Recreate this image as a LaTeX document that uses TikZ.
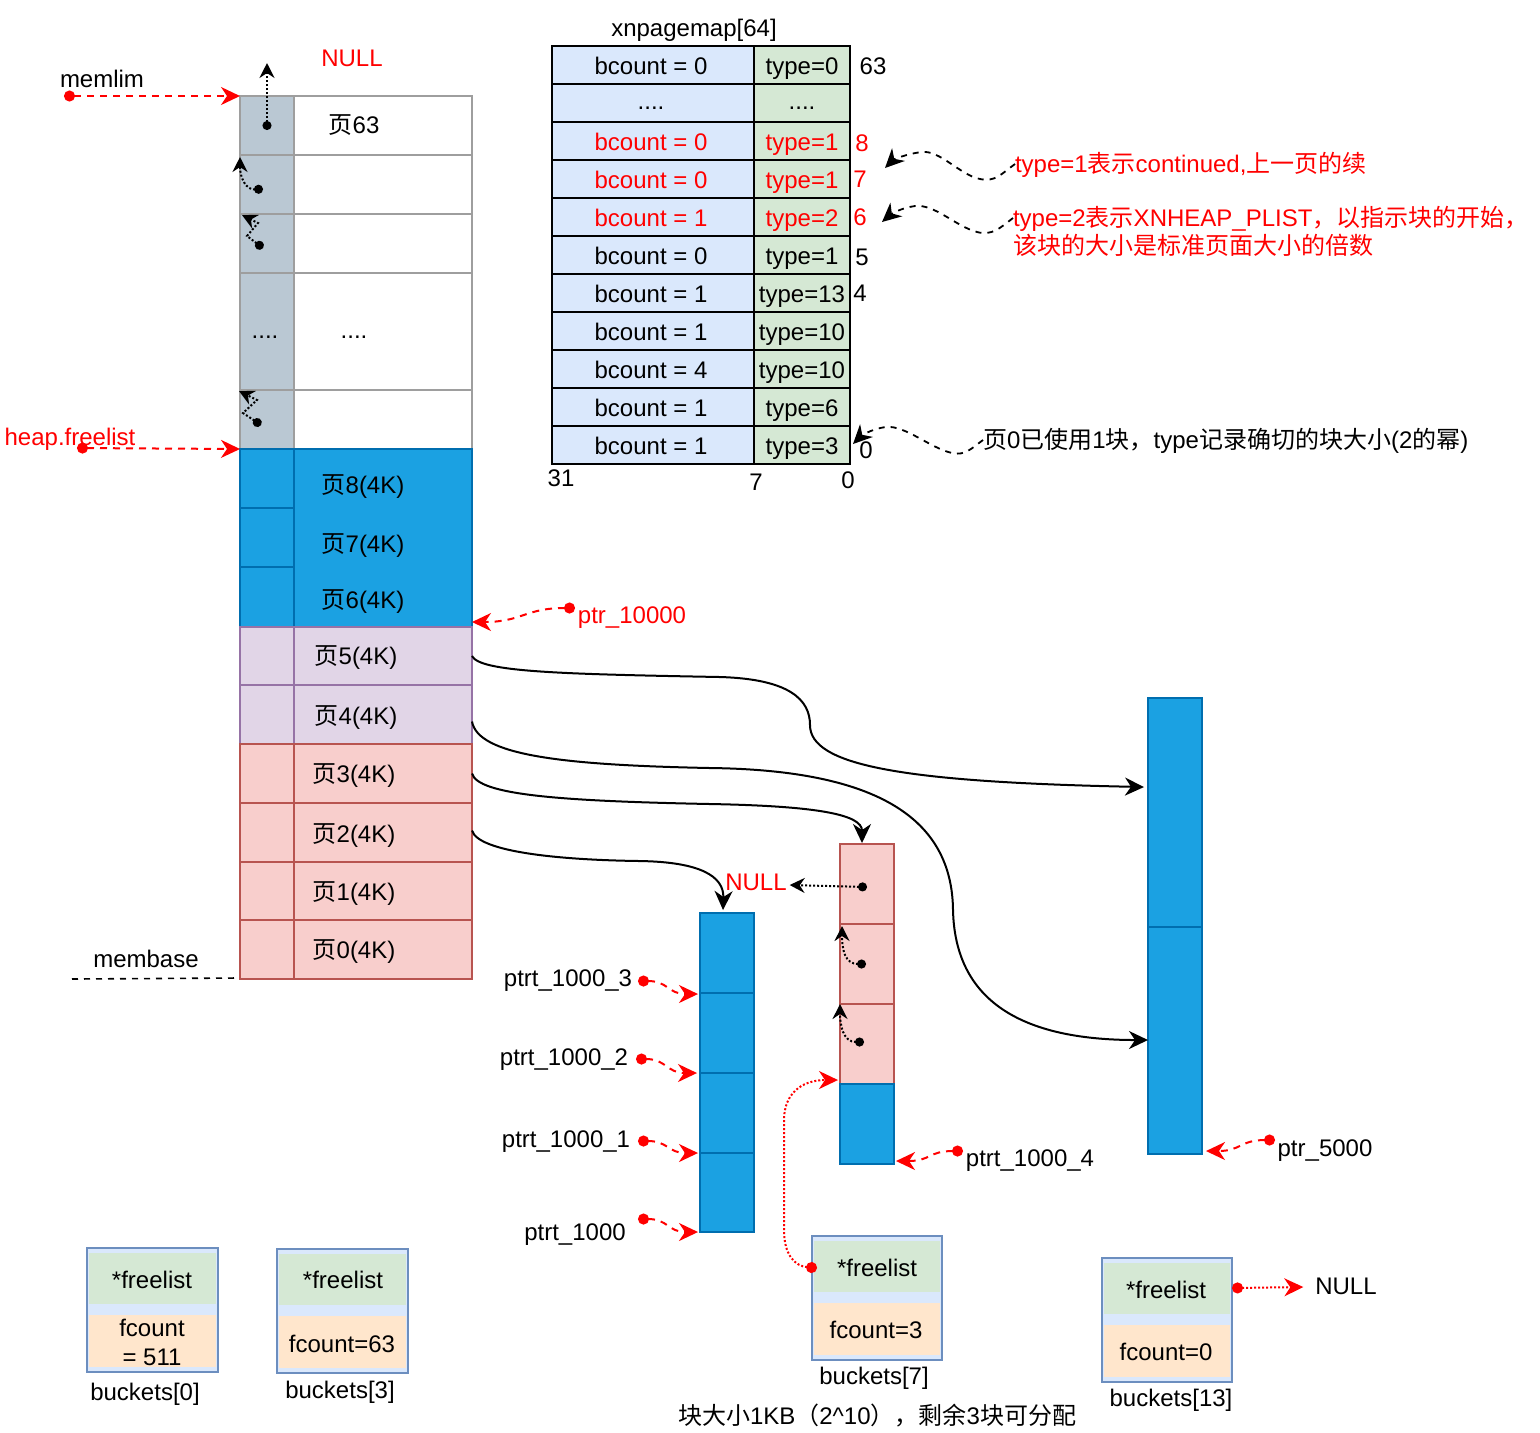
\documentclass[tikz,border=0pt]{standalone}
\usepackage{fontspec}
\setmainfont{Liberation Sans}
\newfontfamily\zh{Noto Sans CJK SC}
\newcommand\zhs[1]{{\zh #1}}
\newcommand\fourdots{\raisebox{1.5pt}{....}}
\usetikzlibrary{arrows.meta,fit,calc}
\definecolor{cred}{HTML}{FF0000}
\definecolor{cgray}{HTML}{BAC8D3}
\definecolor{cgrayst}{HTML}{9E9E9E}
\definecolor{cblue}{HTML}{1BA1E2}
\definecolor{cbluest}{HTML}{006EAF}
\definecolor{cpur}{HTML}{E1D5E7}
\definecolor{cpurst}{HTML}{9673A6}
\definecolor{credf}{HTML}{F8CECC}
\definecolor{credst}{HTML}{B85450}
\definecolor{ctl}{HTML}{DAE8FC}
\definecolor{ctr}{HTML}{D5E8D4}
\definecolor{cbkst}{HTML}{6C8EBF}
\definecolor{cor}{HTML}{FFE6CC}
\tikzset{
  txt/.style={inner sep=0pt, outer sep=0pt, text height=8.6pt, text depth=0pt,
    font=\fontsize{12}{14}\selectfont},
  rtxt/.style={txt, text=cred},
  box/.style={inner sep=0pt, outer sep=0pt, line width=1pt},
  graycell/.style={box, draw=cgrayst, fill=cgray},
  whitecell/.style={box, draw=cgrayst, fill=white},
  bluecell/.style={box, draw=cbluest, fill=cblue},
  purcell/.style={box, draw=cpurst, fill=cpur},
  redcell/.style={box, draw=credst, fill=credf},
  tabl/.style={box, draw=black, fill=ctl, line width=1.2pt},
  tabr/.style={box, draw=black, fill=ctr, line width=1.2pt},
  bkout/.style={box, draw=cbkst, fill=ctl},
  bkgreen/.style={box, fill=ctr},
  bkor/.style={box, fill=cor},
  bighead/.style={Stealth[length=9.5pt,width=9pt,inset=3pt]},
  redptr/.style={draw=cred, line width=1pt, dash pattern=on 3.5pt off 3pt,
    {Circle[length=5.5pt]}-{Stealth[length=9.5pt,width=9pt,inset=3pt]}},
  reddot/.style={draw=cred, line width=1pt, dash pattern=on 1pt off 1pt,
    {Circle[length=5.5pt]}-{Stealth[length=9.5pt,width=9pt,inset=3pt]}},
  blkdot/.style={draw=black, line width=1pt, dash pattern=on 1pt off 1pt,
    {Circle[length=4.5pt]}-{Stealth[length=7.5pt,width=7.5pt,inset=2.5pt]}},
  conn/.style={draw=black, line width=1pt, -{Stealth[length=9.5pt,width=9pt,inset=3pt]}},
  annarrow/.style={draw=black, line width=0.9pt, dash pattern=on 3pt off 3pt,
    -{Stealth[length=9.5pt,width=9pt,inset=3pt]}},
}
\begin{document}
\begin{tikzpicture}[x=0.5pt,y=-0.5pt]
\fill[white] (0,0) rectangle (1540,1432);
\useasboundingbox (0,0) rectangle (1540,1432);

% ---------- left page column ----------
\node[whitecell, fit={(294,96)(472,155)}] (w1) {};
\node[whitecell, fit={(294,155)(472,214)}] (w2) {};
\node[whitecell, fit={(294,214)(472,273)}] (w3) {};
\node[whitecell, fit={(294,273)(472,390)}] (w4) {};
\node[whitecell, fit={(294,390)(472,449)}] (w5) {};
\node[graycell, fit={(240,96)(294,155)}] (g1) {};
\node[graycell, fit={(240,155)(294,214)}] (g2) {};
\node[graycell, fit={(240,214)(294,273)}] (g3) {};
\node[graycell, fit={(240,273)(294,390)}] (g4) {};
\node[graycell, fit={(240,390)(294,449)}] (g5) {};

\node[bluecell, fit={(294,449)(472,627)}] (bR) {};
\node[bluecell, fit={(240,449)(294,508)}] (b8l) {};
\node[bluecell, fit={(240,508)(294,567)}] (b7l) {};
\node[bluecell, fit={(240,567)(294,627)}] (b6l) {};

\node[purcell, fit={(240,627)(294,685)}] (p5l) {};
\node[purcell, fit={(294,627)(472,685)}] (p5r) {};
\node[purcell, fit={(240,685)(294,744)}] (p4l) {};
\node[purcell, fit={(294,685)(472,744)}] (p4r) {};

\node[redcell, fit={(240,744)(294,803)}] (r3l) {};
\node[redcell, fit={(294,744)(472,803)}] (r3r) {};
\node[redcell, fit={(240,803)(294,862)}] (r2l) {};
\node[redcell, fit={(294,803)(472,862)}] (r2r) {};
\node[redcell, fit={(240,862)(294,920)}] (r1l) {};
\node[redcell, fit={(294,862)(472,920)}] (r1r) {};
\node[redcell, fit={(240,920)(294,979)}] (r0l) {};
\node[redcell, fit={(294,920)(472,979)}] (r0r) {};

\node[txt] (t63) at (354,125) {\zhs{页}63};
\node[txt] (tdl) at (265,330) {....};
\node[txt] (tdr) at (354,330) {....};
\node[txt] (tp8) at (363,485) {\zhs{页}8(4K)};
\node[txt] (tp7) at (363,544) {\zhs{页}7(4K)};
\node[txt] (tp6) at (363,600) {\zhs{页}6(4K)};
\node[txt] (tp5) at (356,656) {\zhs{页}5(4K)};
\node[txt] (tp4) at (356,716) {\zhs{页}4(4K)};
\node[txt] (tp3) at (354,774) {\zhs{页}3(4K)};
\node[txt] (tp2) at (354,834) {\zhs{页}2(4K)};
\node[txt] (tp1) at (354,892) {\zhs{页}1(4K)};
\node[txt] (tp0) at (354,950) {\zhs{页}0(4K)};

\node[rtxt] (tnullT) at (352,58) {NULL};
\node[txt] (tmemlim) at (102,79) {memlim};
\node[rtxt] (theap) at (70,437) {heap.freelist};
\node[txt] (tmembase) at (146,959) {membase};

\coordinate (dmem) at (64,96);
\draw[redptr] (dmem) -- (g1.north west);
\coordinate (dheap) at (77,448);
\draw[redptr] (dheap) -- (g5.south west);
\coordinate (mb) at (72,979);
\draw[black, line width=0.8pt, dash pattern=on 3pt off 3pt] (mb) -- ($(r0l.south west)+(-3,-1)$);

% free-list links inside the gray column
\coordinate (d1) at (267,130);
\coordinate (up1) at (267,63);
\draw[blkdot] (d1) -- (up1);
\coordinate (d2) at (263,189);
\draw[blkdot] (d2) .. controls (246,190) and (240,178) .. ($(g2.north west)+(0,2)$);
\coordinate (d3) at (263,248);
\draw[blkdot] (d3) -- (247,236) -- (258,223) -- ($(g3.north west)+(2,1)$);
\coordinate (d5) at (261,425);
\draw[blkdot] (d5) -- (243,413) -- (257,400) -- ($(g5.north west)+(-1,1)$);

% ---------- xnpagemap table ----------
\node[txt] (ttitle) at (694,28) {xnpagemap[64]};
\foreach \i/\lt/\rt/\col in {
  0/bcount = 0/type=0/black,
  1/\fourdots/\fourdots/black,
  2/bcount = 0/type=1/cred,
  3/bcount = 0/type=1/cred,
  4/bcount = 1/type=2/cred,
  5/bcount = 0/type=1/black,
  6/bcount = 1/type=13/black,
  7/bcount = 1/type=10/black,
  8/bcount = 4/type=10/black,
  9/bcount = 1/type=6/black,
  10/bcount = 1/type=3/black}{
  \node[tabl, fit={(552,{46+38*\i})(754,{84+38*\i})}] (tl\i) {};
  \node[tabr, fit={(754,{46+38*\i})(850,{84+38*\i})}] (tr\i) {};
  \node[txt, text=\col] (tlt\i) at (651,{66+38*\i}) {\lt};
  \node[txt, text=\col] (trt\i) at (802,{66+38*\i}) {\rt};
}
\node[txt] (n63) at (873,66) {63};
\node[rtxt] (n8) at (862,143) {8};
\node[rtxt] (n7) at (860,179) {7};
\node[rtxt] (n6) at (860,217) {6};
\node[txt] (n5) at (862,257) {5};
\node[txt] (n4) at (860,293) {4};
\node[txt] (n0r) at (866,450) {0};
\node[txt] (b31) at (561,478) {31};
\node[txt] (b7) at (756,482) {7};
\node[txt] (b0) at (848,480) {0};

% ---------- annotations ----------
\node[rtxt, anchor=west] (tA1) at (1015,164) {type=1\zhs{表示}continued,\zhs{上一页的续}};
\node[rtxt, anchor=west] (tA2) at (1013,218) {type=2\zhs{表示}XNHEAP\_PLIST\zhs{，以指示块的开始，}};
\node[rtxt, anchor=west] (tA2b) at (1013,246) {\zhs{该块的大小是标准页面大小的倍数}};
\node[txt, anchor=west] (tA3) at (983,440) {\zhs{页}0\zhs{已使用}1\zhs{块，}type\zhs{记录确切的块大小}(2\zhs{的幂})};
\coordinate (aA1) at (885,168);
\coordinate (aA2) at (882,222);
\coordinate (aA3) at (853,444);
\draw[annarrow] (tA1.west) .. controls (1000,175) and (995,182) .. (980,179)
  .. controls (960,175) and (940,150) .. (922,152) .. controls (905,154) and (893,160) .. (aA1);
\draw[annarrow] (tA2.west) .. controls (1000,228) and (992,236) .. (977,232)
  .. controls (955,226) and (935,204) .. (915,206) .. controls (900,208) and (890,215) .. (aA2);
\draw[annarrow] (tA3.west) .. controls (972,448) and (965,456) .. (952,453)
  .. controls (930,448) and (905,425) .. (886,427) .. controls (870,429) and (860,437) .. (aA3);

% ---------- ptr_10000 ----------
\node[rtxt] (tp10000) at (632,615) {ptr\_10000};
\coordinate (dp10000) at (575,608);
\draw[redptr] (dp10000) .. controls +(-50,0) and +(50,0) .. ($(bR.south east)+(0,-5)$);

% ---------- block columns ----------
\node[bluecell, fit={(700,913)(754,993)}] (mc1) {};
\node[bluecell, fit={(700,993)(754,1073)}] (mc2) {};
\node[bluecell, fit={(700,1073)(754,1153)}] (mc3) {};
\node[bluecell, fit={(700,1153)(754,1232)}] (mc4) {};

\node[redcell, fit={(840,844)(894,924)}] (rc1) {};
\node[redcell, fit={(840,924)(894,1004)}] (rc2) {};
\node[redcell, fit={(840,1004)(894,1084)}] (rc3) {};
\node[bluecell, fit={(840,1084)(894,1164)}] (rc4) {};

\node[bluecell, fit={(1148,698)(1202,927)}] (big1) {};
\node[bluecell, fit={(1148,927)(1202,1154)}] (big2) {};

% page to block connectors
\draw[conn] ($(p5r.east)+(0,0)$) .. controls (480,672) and (560,674) .. (720,677)
  .. controls (790,679) and (810,700) .. (810,725)
  .. controls (810,765) and (900,782) .. ($(big1.north west)+(-4,89)$);
\draw[conn] ($(p4r.east)+(0,7)$) .. controls (478,755) and (560,765) .. (710,768)
  .. controls (880,770) and (952,820) .. (953,910)
  .. controls (955,1000) and (1020,1040) .. ($(big2.north west)+(0,113)$);
\draw[conn] (r3r.east) .. controls (478,795) and (560,801) .. (710,804)
  .. controls (820,806) and (862,815) .. ($(rc1.north)+(-5,-1)$);
\draw[conn] ($(r2r.east)+(0,-2)$) .. controls (478,852) and (560,860) .. (640,861)
  .. controls (700,862) and (724,876) .. ($(mc1.north)+(-4,-3)$);

% NULL and links in the 1K column
\node[rtxt] (tnullM) at (756,882) {NULL};
\coordinate (dn1) at (867,887);
\draw[blkdot] (dn1) -- ($(tnullM.east)+(3,3)$);
\coordinate (dn2) at (866,964);
\draw[blkdot] (dn2) .. controls (845,964) and (842,950) .. ($(rc2.north west)+(2,2)$);
\coordinate (dn3) at (864,1042);
\draw[blkdot] (dn3) .. controls (843,1042) and (840,1025) .. ($(rc3.north west)+(0,0)$);

% ptrt labels
\node[txt] (tq3) at (568,978) {ptrt\_1000\_3};
\node[txt] (tq2) at (564,1057) {ptrt\_1000\_2};
\node[txt] (tq1) at (566,1139) {ptrt\_1000\_1};
\node[txt] (tq0) at (575,1232) {ptrt\_1000};
\coordinate (dq3) at (638,981);
\coordinate (dq2) at (636,1059);
\coordinate (dq1) at (638,1141);
\coordinate (dq0) at (638,1219);
\draw[redptr] (dq3) .. controls +(30,0) and +(-30,0) .. ($(mc1.south west)+(-2,1)$);
\draw[redptr] (dq2) .. controls +(30,0) and +(-30,0) .. ($(mc2.south west)+(-3,0)$);
\draw[redptr] (dq1) .. controls +(30,0) and +(-30,0) .. ($(mc3.south west)+(-2,0)$);
\draw[redptr] (dq0) .. controls +(30,0) and +(-30,0) .. ($(mc4.south west)+(-2,0)$);

\node[txt] (tq4) at (1030,1158) {ptrt\_1000\_4};
\coordinate (dq4) at (963,1151);
\draw[redptr] (dq4) .. controls +(-35,0) and +(35,0) .. ($(rc4.south east)+(2,-3)$);
\node[txt] (t5000) at (1325,1148) {ptr\_5000};
\coordinate (d5000) at (1275,1140);
\draw[redptr] (d5000) .. controls +(-35,0) and +(35,0) .. ($(big2.south east)+(4,-3)$);

% ---------- buckets ----------
\node[bkout, fit={(87,1248)(218,1372)}] (bk0) {};
\node[bkgreen, fit={(89,1253)(216,1304)}] (bk0f) {};
\node[bkor, fit={(89,1315)(216,1367)}] (bk0c) {};
\node[txt] (tbk0f) at (152,1280) {*freelist};
\node[txt] (tbk0c1) at (152,1328) {fcount};
\node[txt] (tbk0c2) at (152,1357) {= 511};
\node[txt] (tbk0) at (145,1392) {buckets[0]};

\node[bkout, fit={(277,1249)(408,1373)}] (bk3) {};
\node[bkgreen, fit={(279,1254)(406,1305)}] (bk3f) {};
\node[bkor, fit={(279,1316)(406,1368)}] (bk3c) {};
\node[txt] (tbk3f) at (343,1280) {*freelist};
\node[txt] (tbk3c) at (342,1344) {fcount=63};
\node[txt] (tbk3) at (340,1390) {buckets[3]};

\node[bkout, fit={(812,1236)(942,1360)}] (bk7) {};
\node[bkgreen, fit={(814,1241)(940,1292)}] (bk7f) {};
\node[bkor, fit={(814,1303)(940,1355)}] (bk7c) {};
\node[txt] (tbk7f) at (877,1268) {*freelist};
\node[txt] (tbk7c) at (876,1330) {fcount=3};
\node[txt] (tbk7) at (874,1376) {buckets[7]};

\node[bkout, fit={(1102,1258)(1232,1382)}] (bk13) {};
\node[bkgreen, fit={(1104,1263)(1230,1314)}] (bk13f) {};
\node[bkor, fit={(1104,1325)(1230,1377)}] (bk13c) {};
\node[txt] (tbk13f) at (1166,1290) {*freelist};
\node[txt] (tbk13c) at (1166,1352) {fcount=0};
\node[txt] (tbk13) at (1171,1398) {buckets[13]};

\node[txt] (tnullR) at (1346,1286) {NULL};
\coordinate (db13) at (1232,1288);
\draw[reddot] (db13) -- ($(tnullR.west)+(-12,1)$);
\coordinate (db7) at (817,1268);
\draw[reddot] (db7) .. controls (795,1266) and (784,1255) .. (784,1230) -- (784,1120)
  .. controls (784,1095) and (800,1080) .. ($(rc3.south west)+(-2,-4)$);

\node[txt] (tbottom) at (877,1416) {\zhs{块大小}1KB\zhs{（}2\textasciicircum10\zhs{），剩余}3\zhs{块可分配}};
\end{tikzpicture}
\end{document}
